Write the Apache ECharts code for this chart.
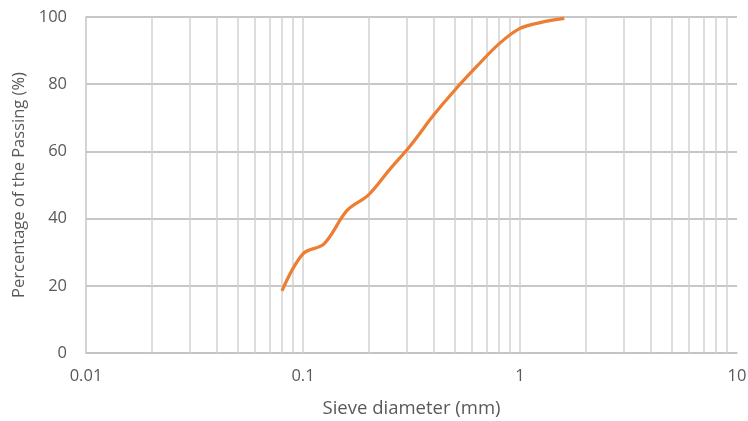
<!DOCTYPE html>
<html>
<head>
<meta charset="utf-8">
<script src="https://cdn.jsdelivr.net/npm/echarts@6/dist/echarts.min.js"></script>
<style>
  html, body { margin: 0; padding: 0; background: #fff; }
  #chart { width: 748px; height: 421px; }
</style>
</head>
<body>
<div id="chart"></div>
<script>
// Grain-size distribution: sieve opening (mm) vs cumulative percent passing
const sieveSizes = [0.08, 0.1, 0.125, 0.16, 0.2, 0.25, 0.315, 0.4, 0.5, 0.63, 0.8, 1, 1.25, 1.6];
const percentPassing = [18.5, 29.5, 32.5, 42.5, 47, 54.5, 62, 70.8, 78.2, 85.2, 92, 96.6, 98.4, 99.6];

// Vertical grid lines of the log axis (every 1..9 step in each decade)
const logGridValues = [
  0.02, 0.03, 0.04, 0.05, 0.06, 0.07, 0.08, 0.09, 0.1,
  0.2, 0.3, 0.4, 0.5, 0.6, 0.7, 0.8, 0.9, 1,
  2, 3, 4, 5, 6, 7, 8, 9
];
const xTickLabels = ['0.01', '0.1', '1', '10'];

const textColor = '#595959';
const fontFamily = '"Open Sans", "Liberation Sans", sans-serif';

const chart = echarts.init(document.getElementById('chart'), null, { renderer: 'canvas' });

chart.setOption({
  animation: false,
  backgroundColor: '#ffffff',
  grid: { left: 86, right: 11, top: 17, bottom: 68, containLabel: false, outerBoundsMode: 'none' },
  xAxis: {
    type: 'log',
    logBase: 10,
    min: 0.01,
    max: 10,
    name: 'Sieve diameter (mm)',
    nameLocation: 'middle',
    nameGap: 46,
    nameTextStyle: { color: textColor, fontSize: 18.5, fontFamily: fontFamily },
    axisLine: { show: true, lineStyle: { color: '#c4c4c4', width: 1.5 } },
    axisTick: { show: false },
    splitLine: { show: false },
    axisLabel: {
      color: textColor, fontSize: 16.5, fontFamily: fontFamily, margin: 15,
      formatter: function (v) {
        const s = String(+v.toPrecision(6));
        return xTickLabels.indexOf(s) >= 0 ? s : '';
      }
    }
  },
  yAxis: {
    type: 'value',
    min: 0,
    max: 100,
    interval: 20,
    name: 'Percentage of the Passing (%)',
    nameLocation: 'middle',
    nameGap: 56,
    nameTextStyle: { color: textColor, fontSize: 16.5, fontFamily: fontFamily },
    axisLine: { show: true, lineStyle: { color: '#c4c4c4', width: 1.5 } },
    axisTick: { show: false },
    splitLine: { show: true, lineStyle: { color: '#b4b4b4', width: 1.5 } },
    axisLabel: { color: textColor, fontSize: 16.5, fontFamily: fontFamily, margin: 19 }
  },
  series: [
    {
      type: 'line',
      data: sieveSizes.map((d, i) => [d, percentPassing[i]]),
      smooth: 0.35,
      showSymbol: false,
      symbol: 'none',
      lineStyle: { color: '#ED7D31', width: 3.2 },
      z: 5,
      markLine: {
        silent: true,
        symbol: ['none', 'none'],
        label: { show: false },
        lineStyle: { color: '#d2d2d2', width: 1.5, type: 'solid' },
        data: logGridValues.map(v => ({ xAxis: v })),
        z: 1
      }
    }
  ]
});
</script>
</body>
</html>
